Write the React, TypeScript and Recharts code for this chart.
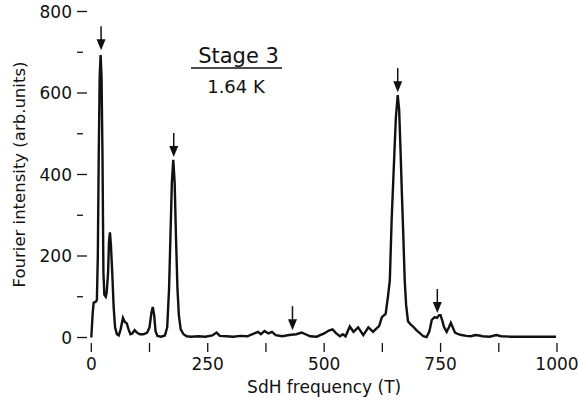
import React from 'react';
import {
  ComposedChart,
  Line,
  Scatter,
  XAxis,
  YAxis,
  Label,
} from 'recharts';

// SdH Fourier spectrum (frequency in T, intensity in arb. units)
const frequencies = [
  0, 3, 5, 10, 12, 14, 16, 18, 20, 22, 24, 26, 28, 31, 33, 36, 38, 40, 42, 45, 48, 51, 55, 59,
  63, 68, 72, 76, 80, 84, 88, 93, 98, 104, 112, 120, 125, 129, 132, 135, 138, 142, 150, 158,
  163, 167, 170, 173, 176, 179, 182, 185, 188, 192, 198, 205, 215, 230, 245, 260, 269, 276,
  290, 305, 320, 335, 350, 358, 364, 372, 380, 388, 396, 410, 425, 440, 452, 460, 470, 484,
  500, 510, 518, 526, 534, 540, 546, 555, 563, 573, 584, 595, 605, 612, 618, 624, 632, 637,
  641, 645, 650, 654, 658, 661, 664, 667, 670, 673, 676, 680, 685, 691, 698, 706, 713, 720,
  726, 731, 737, 742, 747, 750, 754, 757, 763, 768, 772, 776, 781, 788, 795, 805, 815, 825,
  833, 840, 855, 870, 880, 900, 920, 940, 960, 980, 998,
];
const intensities = [
  0, 60, 85, 88, 92, 200, 450, 640, 693, 640, 450, 160, 105, 100, 110, 158, 235, 258, 230, 158, 75, 25, 8, 5,
  20, 48, 38, 35, 20, 8, 10, 18, 12, 8, 8, 12, 25, 60, 75, 55, 15, 4, 2, 5,
  25, 120, 250, 380, 436, 380, 240, 120, 55, 20, 8, 3, 2, 3, 2, 5, 12, 4,
  3, 2, 4, 3, 10, 14, 8, 16, 10, 14, 6, 3, 6, 8, 12, 8, 3, 2,
  10, 17, 20, 10, 3, 8, 3, 27, 14, 25, 6, 25, 14, 22, 28, 50, 58, 100,
  140, 290, 430, 540, 595, 560, 460, 350, 250, 140, 80, 40, 33, 27, 18, 10, 3, 1,
  15, 43, 50, 48, 55, 55, 40, 27, 14, 25, 36, 25, 12, 8, 6, 4, 3, 6,
  5, 3, 2, 6, 3, 2, 2, 2, 2, 2, 2,
];

// arrows marking the assigned peaks (x position and tip height)
const arrowFreqs = [21, 177, 432, 658, 743];
const arrowTips = [705, 443, 18, 602, 60];

const xTicks = [0, 125, 250, 375, 500, 625, 750, 875, 1000];
const yTicks = [0, 100, 200, 300, 400, 500, 600, 700, 800];

const spectrum = frequencies.map((f, i) => ({ f, v: intensities[i] }));
const arrows = arrowFreqs.map((f, i) => ({ f, v: arrowTips[i] }));

const FONT = '"DejaVu Sans", sans-serif';

const YTick = ({ x, y, payload }: any) => {
  const major = payload.value % 200 === 0;
  return (
    <g>
      <line x1={x - 14.3} x2={major ? x - 4.3 : x - 8.3} y1={y} y2={y} stroke="#111" strokeWidth={1.3} />
      {major && (
        <text x={x - 19.3} y={y} dy="0.36em" textAnchor="end" fontSize={17} fontFamily={FONT} fill="#111">
          {payload.value}
        </text>
      )}
    </g>
  );
};

const XTick = ({ x, y, payload }: any) => {
  const major = payload.value % 250 === 0;
  return (
    <g>
      <line x1={x} x2={x} y1={y + 5.5} y2={y + 14.5} stroke="#111" strokeWidth={1.3} />
      {major && (
        <text x={x} y={y + 32} textAnchor="middle" fontSize={17} fontFamily={FONT} fill="#111">
          {payload.value}
        </text>
      )}
    </g>
  );
};

const Arrow = ({ cx, cy }: any) => (
  <g>
    <line x1={cx} x2={cx} y1={cy - 24} y2={cy - 8} stroke="#111" strokeWidth={1.5} />
    <polygon points={`${cx - 4.5},${cy - 11} ${cx + 4.5},${cy - 11} ${cx},${cy}`} fill="#111" />
  </g>
);

export default function App() {
  return (
    <div style={{ position: 'absolute', left: 0, top: 0, width: 579, height: 400, background: '#fff' }}>
      <ComposedChart
        width={579}
        height={400}
        data={spectrum}
        margin={{ top: 11.5, right: 22, bottom: 0, left: 0 }}
      >
        <XAxis
          dataKey="f"
          type="number"
          domain={[0, 1000]}
          ticks={xTicks}
          axisLine={false}
          tickLine={false}
          tickSize={0}
          tickMargin={0}
          tick={<XTick />}
          height={62.5}
          interval={0}
        >
          <Label
            value="SdH frequency (T)"
            position="insideBottom"
            offset={7}
            style={{ fontSize: 17, fontFamily: FONT, fill: '#111' }}
          />
        </XAxis>
        <YAxis
          type="number"
          domain={[0, 800]}
          ticks={yTicks}
          axisLine={false}
          tickLine={false}
          tickSize={0}
          tickMargin={0}
          tick={<YTick />}
          width={91.3}
          interval={0}
        >
          <Label
            value="Fourier intensity (arb.units)"
            angle={-90}
            position="insideLeft"
            offset={19}
            style={{ fontSize: 16.5, fontFamily: FONT, fill: '#111', textAnchor: 'middle' }}
          />
        </YAxis>
        <Line
          type="linear"
          dataKey="v"
          stroke="#111"
          strokeWidth={2.4}
          dot={false}
          isAnimationActive={false}
        />
        <Scatter data={arrows} dataKey="v" shape={<Arrow />} isAnimationActive={false} />
      </ComposedChart>
      <svg
        width={579}
        height={400}
        style={{ position: 'absolute', left: 0, top: 0, pointerEvents: 'none' }}
      >
        <text x={238.5} y={63} textAnchor="middle" fontSize={21} fontFamily={FONT} fill="#111">
          Stage 3
        </text>
        <line x1={191} x2={282} y1={68} y2={68} stroke="#111" strokeWidth={1.3} />
        <text x={236} y={93} textAnchor="middle" fontSize={18} fontFamily={FONT} fill="#111">
          1.64 K
        </text>
      </svg>
    </div>
  );
}
